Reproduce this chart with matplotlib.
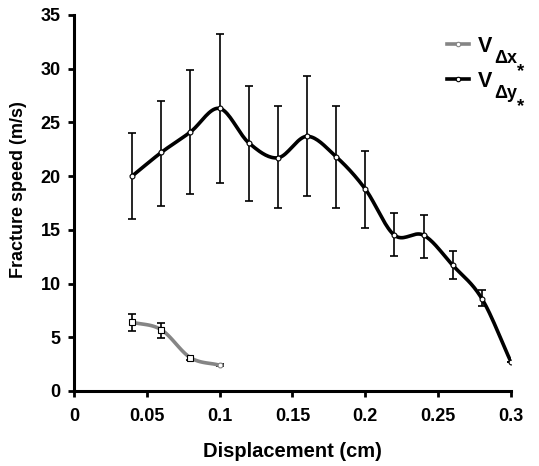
import numpy as np
import matplotlib
matplotlib.use("Agg")
import matplotlib.pyplot as plt

plt.rcParams["font.family"] = ["Liberation Sans", "DejaVu Sans"]
plt.rcParams["font.weight"] = "bold"

# V_dx series
x_dx = [0.04, 0.06, 0.08, 0.10]
v_dx = [6.4, 5.7, 3.1, 2.4]
lo_dx = [5.6, 4.9, 2.9, 2.3]
hi_dx = [7.2, 6.3, 3.3, 2.5]

# V_dy series
x_dy = [0.04, 0.06, 0.08, 0.10, 0.12, 0.14, 0.16, 0.18, 0.20, 0.22, 0.24, 0.26, 0.28, 0.30]
v_dy = [20.0, 22.2, 24.1, 26.3, 23.1, 21.7, 23.7, 21.8, 18.8, 14.5, 14.5, 11.7, 8.6, 2.7]
lo_dy = [16.0, 17.2, 18.3, 19.4, 17.7, 17.0, 18.1, 17.0, 15.2, 12.6, 12.4, 10.4, 7.9, 2.7]
hi_dy = [24.0, 27.0, 29.9, 33.2, 28.4, 26.5, 29.3, 26.5, 22.3, 16.6, 16.4, 13.0, 9.4, 2.7]

series_subs = ["\u0394x", "\u0394y"]

xticks = [0, 0.05, 0.1, 0.15, 0.2, 0.25, 0.3]
xticklabels = ["0", "0.05", "0.1", "0.15", "0.2", "0.25", "0.3"]
yticks = [0, 5, 10, 15, 20, 25, 30, 35]


def smooth(x, y, n=20):
    # Excel-style smoothed line (Catmull-Rom through the points)
    x = np.asarray(x, float); y = np.asarray(y, float)
    px = np.concatenate([[2 * x[0] - x[1]], x, [2 * x[-1] - x[-2]]])
    py = np.concatenate([[2 * y[0] - y[1]], y, [2 * y[-1] - y[-2]]])
    xs, ys = [], []
    t = np.linspace(0, 1, n)
    for i in range(1, len(px) - 2):
        for p, out in ((px, xs), (py, ys)):
            p0, p1, p2, p3 = p[i - 1:i + 3]
            out.extend(0.5 * ((2 * p1) + (-p0 + p2) * t
                              + (2 * p0 - 5 * p1 + 4 * p2 - p3) * t ** 2
                              + (-p0 + 3 * p1 - 3 * p2 + p3) * t ** 3))
    return xs, ys


fig = plt.figure(figsize=(5.39, 4.66), dpi=100)
ax = fig.add_axes([0.137, 0.161, 0.811, 0.807])

gray = "#858585"
for x, v, lo, hi, col, mk, ms in [
        (x_dx, v_dx, lo_dx, hi_dx, gray, "s", 4.2),
        (x_dy, v_dy, lo_dy, hi_dy, "black", "o", 3.5)]:
    v = np.array(v)
    yerr = [v - np.array(lo), np.array(hi) - v]
    ax.errorbar(x, v, yerr=yerr, fmt="none", ecolor="black", elinewidth=1.2,
                capsize=2.7, capthick=1.2, zorder=2)
    sx, sy = smooth(x, v)
    ax.plot(sx, sy, color=col, lw=2.6, zorder=3)
    ax.plot(x[:-1], v[:-1], ls="none", marker=mk, ms=ms, mfc="white", mec="black",
            mew=0.8, zorder=4)
    ax.plot(x[-1:], v[-1:], ls="none", marker="o", ms=3.5, mfc="white", mec=col,
            mew=0.8, zorder=4)
    ax.plot([], [], color=col, lw=2.6, marker="o", ms=3.2, mfc="white", mec=col,
            mew=0.8, label="V")

ax.set_xlim(0, 0.3)
ax.set_ylim(0, 35)
ax.set_xticks(xticks)
ax.set_xticklabels(xticklabels)
ax.set_yticks(yticks)
ax.tick_params(labelsize=13, width=2, length=4.5, direction="out")
ax.tick_params(axis="x", pad=8)
ax.tick_params(axis="y", pad=5)
for s in ["top", "right"]:
    ax.spines[s].set_visible(False)
for s in ["left", "bottom"]:
    ax.spines[s].set_linewidth(2.2)
ax.set_xlabel("Displacement (cm)", fontsize=14.5, fontweight="bold", labelpad=12)
ax.set_ylabel("Fracture speed (m/s)", fontsize=13, fontweight="bold", labelpad=10,
              y=0.535)

leg = ax.legend(loc="upper left", bbox_to_anchor=(0.809, 0.996), frameon=False,
                fontsize=15.5, handlelength=1.02, handletextpad=0.42,
                labelspacing=0.65, borderpad=0.4)
fig.canvas.draw()  # lay out the legend so its texts have positions

# subscripts "Δx*" / "Δy*" hung off each legend "V"
for vtext, sub in zip(leg.get_texts(), series_subs):
    a = ax.annotate(sub, xy=(1, 0), xycoords=vtext, xytext=(1.2, -7.5),
                    textcoords="offset points", ha="left", va="bottom",
                    fontsize=13, fontweight="bold", zorder=6,
                    annotation_clip=False)
    ax.annotate("*", xy=(1, 0), xycoords=a, xytext=(0.3, 2.8),
                textcoords="offset points", ha="left", va="top",
                fontsize=13.5, fontweight="bold", zorder=7, annotation_clip=False)

fig.savefig("out.png", dpi=100)
